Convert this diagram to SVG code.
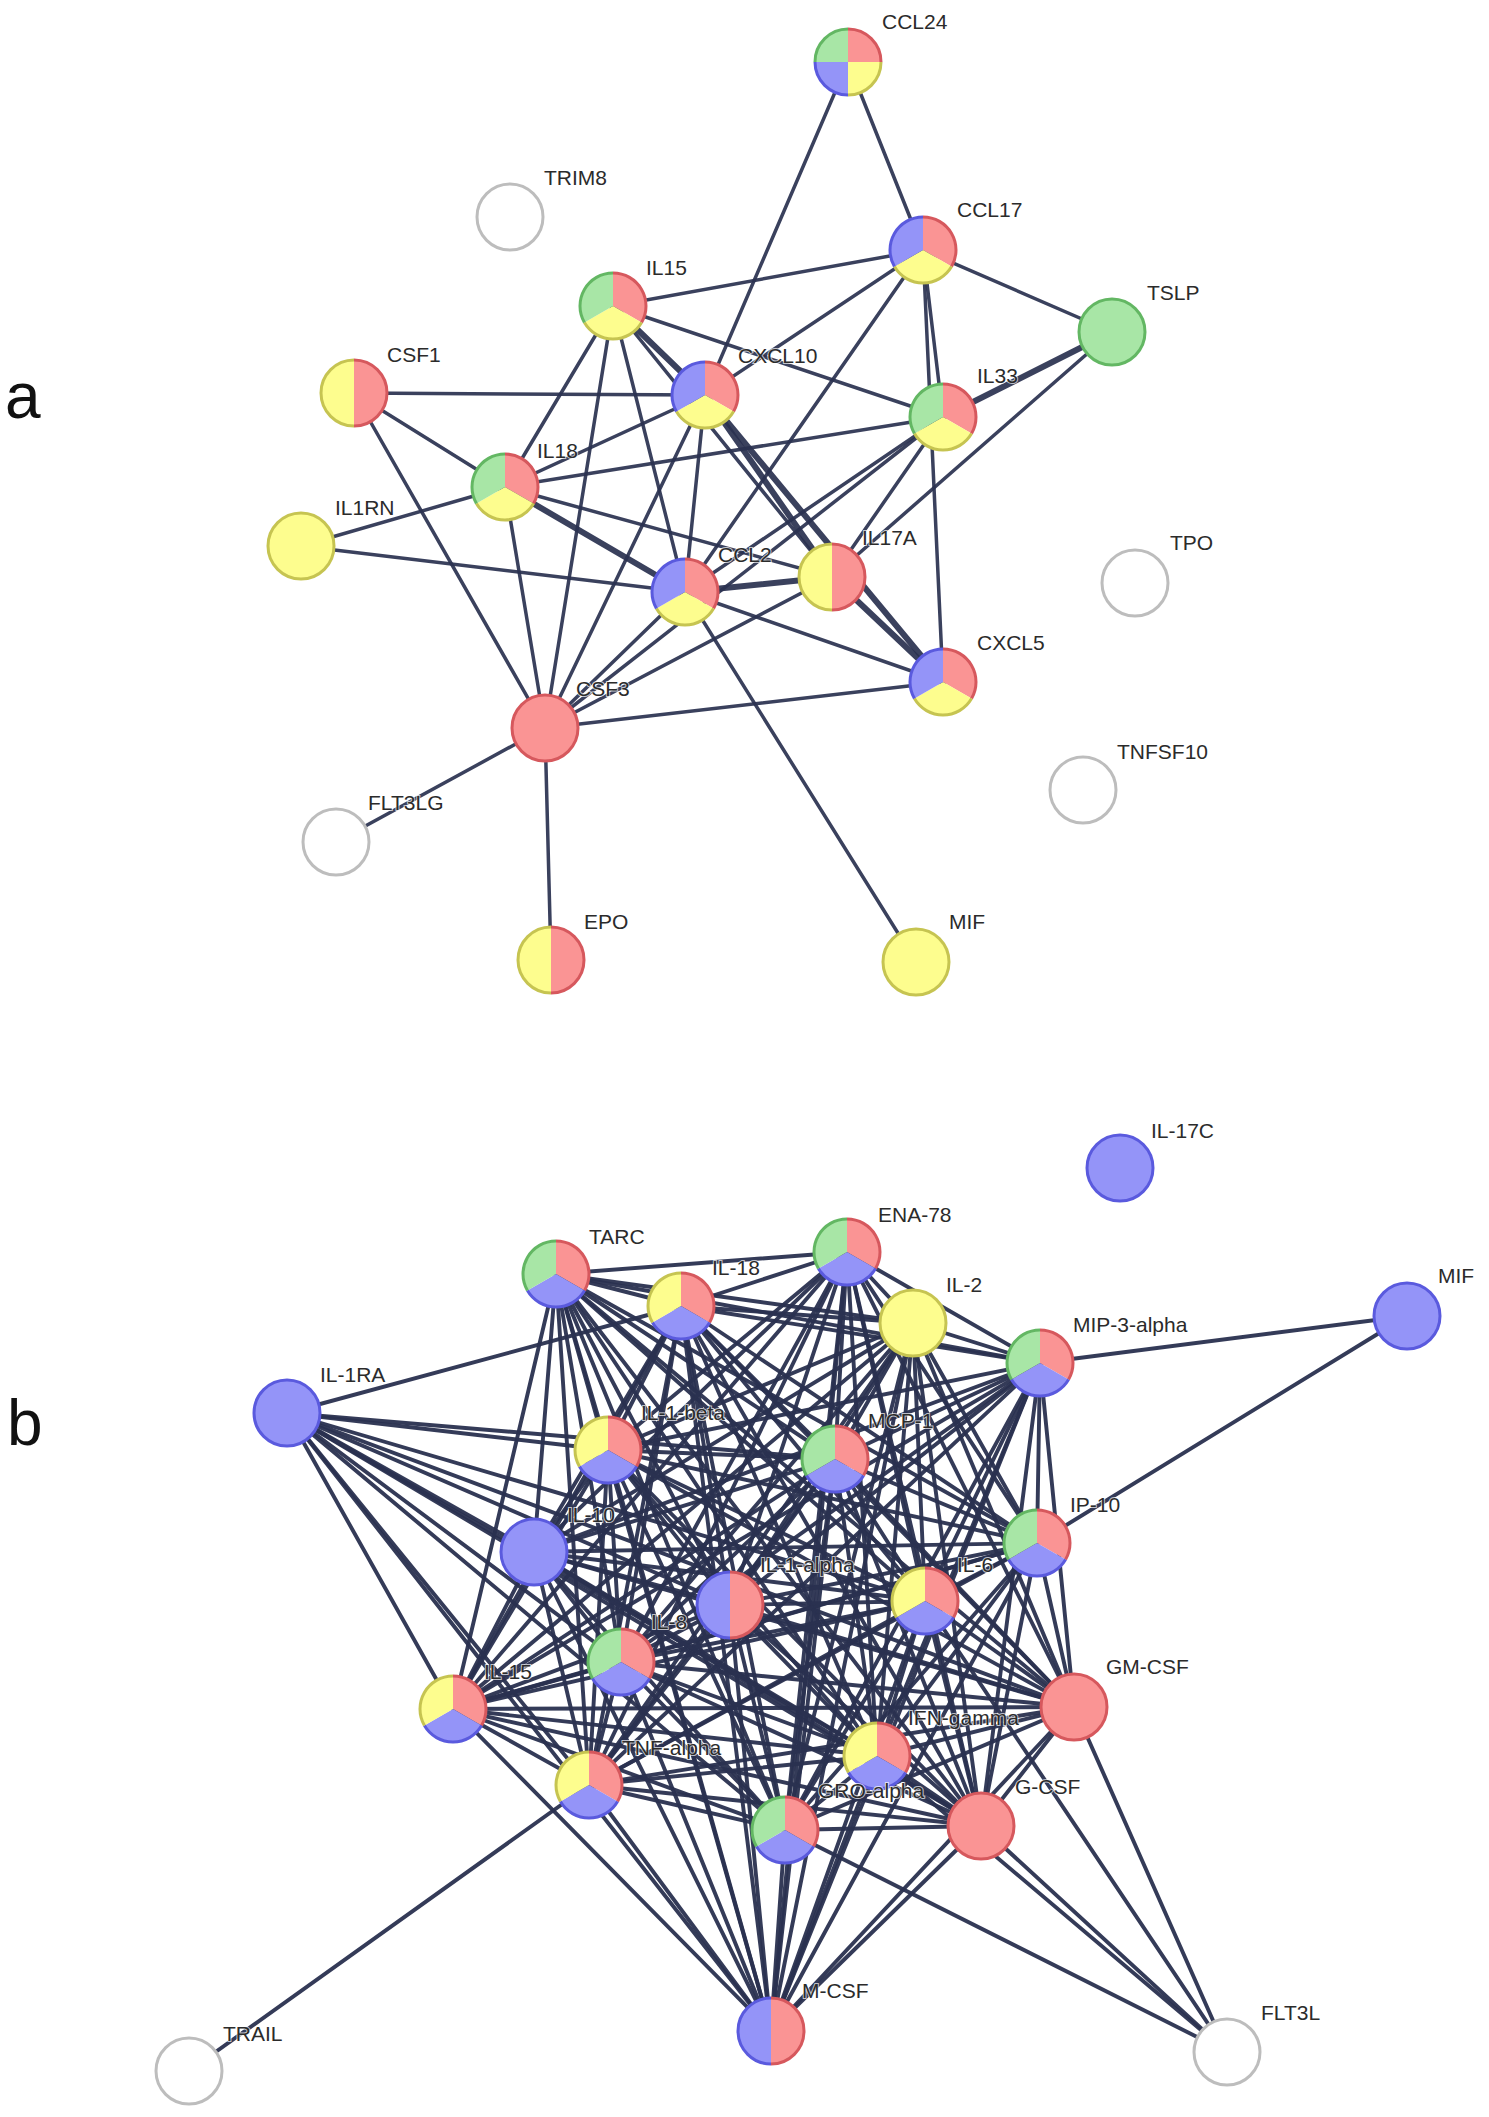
<svg xmlns="http://www.w3.org/2000/svg" xmlns:xlink="http://www.w3.org/1999/xlink" width="1489" height="2117" viewBox="0 0 1489 2117">
<style>
.fr{fill:#fa9494}.fy{fill:#fdfd8e}.fg{fill:#a8e6a6}.fb{fill:#9494f8}.fw{fill:#ffffff}
.sr{stroke:#d6585d;stroke-width:3}.sy{stroke:#c6c451;stroke-width:3}.sg{stroke:#63b763;stroke-width:3}.sb{stroke:#5a5ade;stroke-width:3}.sw{stroke:#bdbdbd;stroke-width:3}
.edges line{stroke:#2a3150;stroke-width:3.5;stroke-linecap:round;opacity:0.92}
#edges-b line{stroke-width:3.9;opacity:0.95}
.edges line.t{stroke-width:6}
.lbl{font-family:"Liberation Sans",Arial,sans-serif;font-size:21px;fill:#2b2b2b;stroke:#ffffff;stroke-width:2;stroke-opacity:0.7;paint-order:stroke}
.panel{font-family:"Liberation Sans",Arial,sans-serif;font-size:64px;fill:#111}
</style>
<defs>
<path id="r0" d="M0,-33 A33,33 0 0 1 28.58,16.5 L0,0 Z"/>
<path id="r1" d="M28.58,16.5 A33,33 0 0 1 -28.58,16.5 L0,0 Z"/>
<path id="r2" d="M-28.58,16.5 A33,33 0 0 1 0,-33 L0,0 Z"/>
<path id="hR" d="M0,-33 A33,33 0 0 1 0,33 Z"/>
<path id="hL" d="M0,33 A33,33 0 0 1 0,-33 Z"/>
<path id="q0" d="M0,-33 A33,33 0 0 1 33,0 L0,0 Z"/>
<path id="q1" d="M33,0 A33,33 0 0 1 0,33 L0,0 Z"/>
<path id="q2" d="M0,33 A33,33 0 0 1 -33,0 L0,0 Z"/>
<path id="q3" d="M-33,0 A33,33 0 0 1 0,-33 L0,0 Z"/>
<path id="a0" fill="none" d="M0,-33 A33,33 0 0 1 28.58,16.5"/>
<path id="a1" fill="none" d="M28.58,16.5 A33,33 0 0 1 -28.58,16.5"/>
<path id="a2" fill="none" d="M-28.58,16.5 A33,33 0 0 1 0,-33"/>
<path id="aR" fill="none" d="M0,-33 A33,33 0 0 1 0,33"/>
<path id="aL" fill="none" d="M0,33 A33,33 0 0 1 0,-33"/>
<path id="aq0" fill="none" d="M0,-33 A33,33 0 0 1 33,0"/>
<path id="aq1" fill="none" d="M33,0 A33,33 0 0 1 0,33"/>
<path id="aq2" fill="none" d="M0,33 A33,33 0 0 1 -33,0"/>
<path id="aq3" fill="none" d="M-33,0 A33,33 0 0 1 0,-33"/>
</defs>
<rect width="1489" height="2117" fill="#ffffff"/>
<text class="panel" x="5" y="418">a</text>
<text class="panel" x="7" y="1445">b</text>

<g id="edges-a" class="edges">
<line x1="848" y1="62" x2="923" y2="250"/>
<line x1="848" y1="62" x2="705" y2="395"/>
<line x1="923" y1="250" x2="1112" y2="332"/>
<line x1="923" y1="250" x2="613" y2="306"/>
<line x1="923" y1="250" x2="705" y2="395"/>
<line x1="923" y1="250" x2="943" y2="417"/>
<line x1="923" y1="250" x2="943" y2="682"/>
<line x1="923" y1="250" x2="685" y2="592"/>
<line class="t" x1="1112" y1="332" x2="943" y2="417"/>
<line x1="1112" y1="332" x2="832" y2="577"/>
<line x1="613" y1="306" x2="943" y2="417"/>
<line class="t" x1="613" y1="306" x2="705" y2="395"/>
<line x1="613" y1="306" x2="505" y2="487"/>
<line x1="613" y1="306" x2="545" y2="728"/>
<line x1="613" y1="306" x2="685" y2="592"/>
<line x1="613" y1="306" x2="832" y2="577"/>
<line x1="354" y1="393" x2="705" y2="395"/>
<line x1="354" y1="393" x2="505" y2="487"/>
<line x1="354" y1="393" x2="545" y2="728"/>
<line x1="301" y1="546" x2="505" y2="487"/>
<line x1="301" y1="546" x2="685" y2="592"/>
<line x1="505" y1="487" x2="705" y2="395"/>
<line x1="505" y1="487" x2="943" y2="417"/>
<line class="t" x1="505" y1="487" x2="685" y2="592"/>
<line x1="505" y1="487" x2="832" y2="577"/>
<line x1="505" y1="487" x2="545" y2="728"/>
<line x1="705" y1="395" x2="685" y2="592"/>
<line x1="705" y1="395" x2="545" y2="728"/>
<line class="t" x1="705" y1="395" x2="832" y2="577"/>
<line class="t" x1="705" y1="395" x2="943" y2="682"/>
<line x1="943" y1="417" x2="685" y2="592"/>
<line x1="943" y1="417" x2="832" y2="577"/>
<line x1="943" y1="417" x2="545" y2="728"/>
<line class="t" x1="685" y1="592" x2="832" y2="577"/>
<line x1="685" y1="592" x2="943" y2="682"/>
<line x1="685" y1="592" x2="545" y2="728"/>
<line x1="685" y1="592" x2="916" y2="962"/>
<line class="t" x1="832" y1="577" x2="943" y2="682"/>
<line x1="832" y1="577" x2="545" y2="728"/>
<line x1="943" y1="682" x2="545" y2="728"/>
<line x1="545" y1="728" x2="336" y2="842"/>
<line x1="545" y1="728" x2="551" y2="960"/>
</g>

<g id="edges-b" class="edges">
<line x1="556" y1="1274" x2="681" y2="1306"/><line x1="556" y1="1274" x2="847" y2="1252"/><line x1="556" y1="1274" x2="913" y2="1323"/><line x1="556" y1="1274" x2="1040" y2="1363"/><line x1="556" y1="1274" x2="608" y2="1450"/><line x1="556" y1="1274" x2="835" y2="1459"/><line x1="556" y1="1274" x2="534" y2="1552"/><line x1="556" y1="1274" x2="1037" y2="1543"/><line x1="556" y1="1274" x2="730" y2="1605"/><line x1="556" y1="1274" x2="925" y2="1601"/><line x1="556" y1="1274" x2="621" y2="1662"/><line x1="556" y1="1274" x2="453" y2="1709"/><line x1="556" y1="1274" x2="1074" y2="1707"/><line x1="556" y1="1274" x2="589" y2="1785"/><line x1="556" y1="1274" x2="877" y2="1756"/><line x1="556" y1="1274" x2="785" y2="1830"/><line x1="556" y1="1274" x2="981" y2="1826"/><line x1="556" y1="1274" x2="771" y2="2031"/>
<line x1="681" y1="1306" x2="847" y2="1252"/><line x1="681" y1="1306" x2="913" y2="1323"/><line x1="681" y1="1306" x2="1040" y2="1363"/><line x1="681" y1="1306" x2="608" y2="1450"/><line x1="681" y1="1306" x2="835" y2="1459"/><line x1="681" y1="1306" x2="534" y2="1552"/><line x1="681" y1="1306" x2="1037" y2="1543"/><line x1="681" y1="1306" x2="730" y2="1605"/><line x1="681" y1="1306" x2="925" y2="1601"/><line x1="681" y1="1306" x2="621" y2="1662"/><line x1="681" y1="1306" x2="453" y2="1709"/><line x1="681" y1="1306" x2="1074" y2="1707"/><line x1="681" y1="1306" x2="589" y2="1785"/><line x1="681" y1="1306" x2="877" y2="1756"/><line x1="681" y1="1306" x2="785" y2="1830"/><line x1="681" y1="1306" x2="981" y2="1826"/><line x1="681" y1="1306" x2="771" y2="2031"/>
<line x1="847" y1="1252" x2="913" y2="1323"/><line x1="847" y1="1252" x2="1040" y2="1363"/><line x1="847" y1="1252" x2="608" y2="1450"/><line x1="847" y1="1252" x2="835" y2="1459"/><line x1="847" y1="1252" x2="534" y2="1552"/><line x1="847" y1="1252" x2="1037" y2="1543"/><line x1="847" y1="1252" x2="730" y2="1605"/><line x1="847" y1="1252" x2="925" y2="1601"/><line x1="847" y1="1252" x2="621" y2="1662"/><line x1="847" y1="1252" x2="453" y2="1709"/><line x1="847" y1="1252" x2="1074" y2="1707"/><line x1="847" y1="1252" x2="589" y2="1785"/><line x1="847" y1="1252" x2="877" y2="1756"/><line x1="847" y1="1252" x2="785" y2="1830"/><line x1="847" y1="1252" x2="981" y2="1826"/><line x1="847" y1="1252" x2="771" y2="2031"/>
<line x1="913" y1="1323" x2="1040" y2="1363"/><line x1="913" y1="1323" x2="608" y2="1450"/><line x1="913" y1="1323" x2="835" y2="1459"/><line x1="913" y1="1323" x2="534" y2="1552"/><line x1="913" y1="1323" x2="1037" y2="1543"/><line x1="913" y1="1323" x2="730" y2="1605"/><line x1="913" y1="1323" x2="925" y2="1601"/><line x1="913" y1="1323" x2="621" y2="1662"/><line x1="913" y1="1323" x2="453" y2="1709"/><line x1="913" y1="1323" x2="1074" y2="1707"/><line x1="913" y1="1323" x2="589" y2="1785"/><line x1="913" y1="1323" x2="877" y2="1756"/><line x1="913" y1="1323" x2="785" y2="1830"/><line x1="913" y1="1323" x2="981" y2="1826"/><line x1="913" y1="1323" x2="771" y2="2031"/>
<line x1="1040" y1="1363" x2="608" y2="1450"/><line x1="1040" y1="1363" x2="835" y2="1459"/><line x1="1040" y1="1363" x2="534" y2="1552"/><line x1="1040" y1="1363" x2="1037" y2="1543"/><line x1="1040" y1="1363" x2="730" y2="1605"/><line x1="1040" y1="1363" x2="925" y2="1601"/><line x1="1040" y1="1363" x2="621" y2="1662"/><line x1="1040" y1="1363" x2="453" y2="1709"/><line x1="1040" y1="1363" x2="1074" y2="1707"/><line x1="1040" y1="1363" x2="589" y2="1785"/><line x1="1040" y1="1363" x2="877" y2="1756"/><line x1="1040" y1="1363" x2="785" y2="1830"/><line x1="1040" y1="1363" x2="981" y2="1826"/><line x1="1040" y1="1363" x2="771" y2="2031"/>
<line x1="608" y1="1450" x2="835" y2="1459"/><line x1="608" y1="1450" x2="534" y2="1552"/><line x1="608" y1="1450" x2="1037" y2="1543"/><line x1="608" y1="1450" x2="730" y2="1605"/><line x1="608" y1="1450" x2="925" y2="1601"/><line x1="608" y1="1450" x2="621" y2="1662"/><line x1="608" y1="1450" x2="453" y2="1709"/><line x1="608" y1="1450" x2="1074" y2="1707"/><line x1="608" y1="1450" x2="589" y2="1785"/><line x1="608" y1="1450" x2="877" y2="1756"/><line x1="608" y1="1450" x2="785" y2="1830"/><line x1="608" y1="1450" x2="981" y2="1826"/><line x1="608" y1="1450" x2="771" y2="2031"/>
<line x1="835" y1="1459" x2="534" y2="1552"/><line x1="835" y1="1459" x2="1037" y2="1543"/><line x1="835" y1="1459" x2="730" y2="1605"/><line x1="835" y1="1459" x2="925" y2="1601"/><line x1="835" y1="1459" x2="621" y2="1662"/><line x1="835" y1="1459" x2="453" y2="1709"/><line x1="835" y1="1459" x2="1074" y2="1707"/><line x1="835" y1="1459" x2="589" y2="1785"/><line x1="835" y1="1459" x2="877" y2="1756"/><line x1="835" y1="1459" x2="785" y2="1830"/><line x1="835" y1="1459" x2="981" y2="1826"/><line x1="835" y1="1459" x2="771" y2="2031"/>
<line x1="534" y1="1552" x2="1037" y2="1543"/><line x1="534" y1="1552" x2="730" y2="1605"/><line x1="534" y1="1552" x2="925" y2="1601"/><line x1="534" y1="1552" x2="621" y2="1662"/><line x1="534" y1="1552" x2="453" y2="1709"/><line x1="534" y1="1552" x2="1074" y2="1707"/><line x1="534" y1="1552" x2="589" y2="1785"/><line x1="534" y1="1552" x2="877" y2="1756"/><line x1="534" y1="1552" x2="785" y2="1830"/><line x1="534" y1="1552" x2="981" y2="1826"/><line x1="534" y1="1552" x2="771" y2="2031"/>
<line x1="1037" y1="1543" x2="730" y2="1605"/><line x1="1037" y1="1543" x2="925" y2="1601"/><line x1="1037" y1="1543" x2="621" y2="1662"/><line x1="1037" y1="1543" x2="453" y2="1709"/><line x1="1037" y1="1543" x2="1074" y2="1707"/><line x1="1037" y1="1543" x2="589" y2="1785"/><line x1="1037" y1="1543" x2="877" y2="1756"/><line x1="1037" y1="1543" x2="785" y2="1830"/><line x1="1037" y1="1543" x2="981" y2="1826"/><line x1="1037" y1="1543" x2="771" y2="2031"/>
<line x1="730" y1="1605" x2="925" y2="1601"/><line x1="730" y1="1605" x2="621" y2="1662"/><line x1="730" y1="1605" x2="453" y2="1709"/><line x1="730" y1="1605" x2="1074" y2="1707"/><line x1="730" y1="1605" x2="589" y2="1785"/><line x1="730" y1="1605" x2="877" y2="1756"/><line x1="730" y1="1605" x2="785" y2="1830"/><line x1="730" y1="1605" x2="981" y2="1826"/><line x1="730" y1="1605" x2="771" y2="2031"/>
<line x1="925" y1="1601" x2="621" y2="1662"/><line x1="925" y1="1601" x2="453" y2="1709"/><line x1="925" y1="1601" x2="1074" y2="1707"/><line x1="925" y1="1601" x2="589" y2="1785"/><line x1="925" y1="1601" x2="877" y2="1756"/><line x1="925" y1="1601" x2="785" y2="1830"/><line x1="925" y1="1601" x2="981" y2="1826"/><line x1="925" y1="1601" x2="771" y2="2031"/>
<line x1="621" y1="1662" x2="453" y2="1709"/><line x1="621" y1="1662" x2="1074" y2="1707"/><line x1="621" y1="1662" x2="589" y2="1785"/><line x1="621" y1="1662" x2="877" y2="1756"/><line x1="621" y1="1662" x2="785" y2="1830"/><line x1="621" y1="1662" x2="981" y2="1826"/><line x1="621" y1="1662" x2="771" y2="2031"/>
<line x1="453" y1="1709" x2="1074" y2="1707"/><line x1="453" y1="1709" x2="589" y2="1785"/><line x1="453" y1="1709" x2="877" y2="1756"/><line x1="453" y1="1709" x2="785" y2="1830"/><line x1="453" y1="1709" x2="981" y2="1826"/><line x1="453" y1="1709" x2="771" y2="2031"/>
<line x1="1074" y1="1707" x2="589" y2="1785"/><line x1="1074" y1="1707" x2="877" y2="1756"/><line x1="1074" y1="1707" x2="785" y2="1830"/><line x1="1074" y1="1707" x2="981" y2="1826"/><line x1="1074" y1="1707" x2="771" y2="2031"/>
<line x1="589" y1="1785" x2="877" y2="1756"/><line x1="589" y1="1785" x2="785" y2="1830"/><line x1="589" y1="1785" x2="981" y2="1826"/><line x1="589" y1="1785" x2="771" y2="2031"/>
<line x1="877" y1="1756" x2="785" y2="1830"/><line x1="877" y1="1756" x2="981" y2="1826"/><line x1="877" y1="1756" x2="771" y2="2031"/>
<line x1="785" y1="1830" x2="981" y2="1826"/><line x1="785" y1="1830" x2="771" y2="2031"/>
<line x1="981" y1="1826" x2="771" y2="2031"/>
<line x1="287" y1="1413" x2="681" y2="1306"/><line x1="287" y1="1413" x2="608" y2="1450"/><line x1="287" y1="1413" x2="835" y2="1459"/><line x1="287" y1="1413" x2="925" y2="1601"/><line x1="287" y1="1413" x2="1074" y2="1707"/><line x1="287" y1="1413" x2="730" y2="1605"/><line x1="287" y1="1413" x2="534" y2="1552"/><line x1="287" y1="1413" x2="981" y2="1826"/><line x1="287" y1="1413" x2="877" y2="1756"/><line x1="287" y1="1413" x2="621" y2="1662"/><line x1="287" y1="1413" x2="785" y2="1830"/><line x1="287" y1="1413" x2="589" y2="1785"/><line x1="287" y1="1413" x2="771" y2="2031"/><line x1="287" y1="1413" x2="453" y2="1709"/>
<line x1="1407" y1="1316" x2="1040" y2="1363"/><line x1="1407" y1="1316" x2="1037" y2="1543"/>
<line x1="189" y1="2071" x2="589" y2="1785"/>
<line x1="1227" y1="2052" x2="1074" y2="1707"/><line x1="1227" y1="2052" x2="981" y2="1826"/><line x1="1227" y1="2052" x2="785" y2="1830"/><line x1="1227" y1="2052" x2="925" y2="1601"/><line x1="1227" y1="2052" x2="877" y2="1756"/>
</g>

<g id="nodes-a">
<g id="n-CCL24" transform="translate(848,62)"><use href="#q0" class="fr"/><use href="#q1" class="fy"/><use href="#q2" class="fb"/><use href="#q3" class="fg"/><use href="#aq0" class="sr"/><use href="#aq1" class="sy"/><use href="#aq2" class="sb"/><use href="#aq3" class="sg"/><text class="lbl" x="34" y="-33">CCL24</text></g>
<g id="n-TRIM8" transform="translate(510,217)"><circle r="33" class="fw sw"/><text class="lbl" x="34" y="-32">TRIM8</text></g>
<g id="n-CCL17" transform="translate(923,250)"><use href="#r0" class="fr"/><use href="#r1" class="fy"/><use href="#r2" class="fb"/><use href="#a0" class="sr"/><use href="#a1" class="sy"/><use href="#a2" class="sb"/><text class="lbl" x="34" y="-33">CCL17</text></g>
<g id="n-IL15" transform="translate(613,306)"><use href="#r0" class="fr"/><use href="#r1" class="fy"/><use href="#r2" class="fg"/><use href="#a0" class="sr"/><use href="#a1" class="sy"/><use href="#a2" class="sg"/><text class="lbl" x="33" y="-31">IL15</text></g>
<g id="n-TSLP" transform="translate(1112,332)"><circle r="33" class="fg sg"/><text class="lbl" x="35" y="-32">TSLP</text></g>
<g id="n-CSF1" transform="translate(354,393)"><use href="#hR" class="fr"/><use href="#hL" class="fy"/><use href="#aR" class="sr"/><use href="#aL" class="sy"/><text class="lbl" x="33" y="-31">CSF1</text></g>
<g id="n-CXCL10" transform="translate(705,395)"><use href="#r0" class="fr"/><use href="#r1" class="fy"/><use href="#r2" class="fb"/><use href="#a0" class="sr"/><use href="#a1" class="sy"/><use href="#a2" class="sb"/><text class="lbl" x="33" y="-32">CXCL10</text></g>
<g id="n-IL33" transform="translate(943,417)"><use href="#r0" class="fr"/><use href="#r1" class="fy"/><use href="#r2" class="fg"/><use href="#a0" class="sr"/><use href="#a1" class="sy"/><use href="#a2" class="sg"/><text class="lbl" x="34" y="-34">IL33</text></g>
<g id="n-IL18" transform="translate(505,487)"><use href="#r0" class="fr"/><use href="#r1" class="fy"/><use href="#r2" class="fg"/><use href="#a0" class="sr"/><use href="#a1" class="sy"/><use href="#a2" class="sg"/><text class="lbl" x="32" y="-29">IL18</text></g>
<g id="n-IL1RN" transform="translate(301,546)"><circle r="33" class="fy sy"/><text class="lbl" x="34" y="-31">IL1RN</text></g>
<g id="n-TPO" transform="translate(1135,583)"><circle r="33" class="fw sw"/><text class="lbl" x="35" y="-33">TPO</text></g>
<g id="n-IL17A" transform="translate(832,577)"><use href="#hR" class="fr"/><use href="#hL" class="fy"/><use href="#aR" class="sr"/><use href="#aL" class="sy"/><text class="lbl" x="30" y="-32">IL17A</text></g>
<g id="n-CCL2" transform="translate(685,592)"><use href="#r0" class="fr"/><use href="#r1" class="fy"/><use href="#r2" class="fb"/><use href="#a0" class="sr"/><use href="#a1" class="sy"/><use href="#a2" class="sb"/><text class="lbl" x="33" y="-30">CCL2</text></g>
<g id="n-CXCL5" transform="translate(943,682)"><use href="#r0" class="fr"/><use href="#r1" class="fy"/><use href="#r2" class="fb"/><use href="#a0" class="sr"/><use href="#a1" class="sy"/><use href="#a2" class="sb"/><text class="lbl" x="34" y="-32">CXCL5</text></g>
<g id="n-CSF3" transform="translate(545,728)"><circle r="33" class="fr sr"/><text class="lbl" x="31" y="-32">CSF3</text></g>
<g id="n-TNFSF10" transform="translate(1083,790)"><circle r="33" class="fw sw"/><text class="lbl" x="34" y="-31">TNFSF10</text></g>
<g id="n-FLT3LG" transform="translate(336,842)"><circle r="33" class="fw sw"/><text class="lbl" x="32" y="-32">FLT3LG</text></g>
<g id="n-EPO" transform="translate(551,960)"><use href="#hR" class="fr"/><use href="#hL" class="fy"/><use href="#aR" class="sr"/><use href="#aL" class="sy"/><text class="lbl" x="33" y="-31">EPO</text></g>
<g id="n-MIF-a" transform="translate(916,962)"><circle r="33" class="fy sy"/><text class="lbl" x="33" y="-33">MIF</text></g>
</g>

<g id="nodes-b">
<g id="n-IL-17C" transform="translate(1120,1168)"><circle r="33" class="fb sb"/><text class="lbl" x="31" y="-30">IL-17C</text></g>
<g id="n-TARC" transform="translate(556,1274)"><use href="#r0" class="fr"/><use href="#r1" class="fb"/><use href="#r2" class="fg"/><use href="#a0" class="sr"/><use href="#a1" class="sb"/><use href="#a2" class="sg"/><text class="lbl" x="33" y="-30">TARC</text></g>
<g id="n-ENA-78" transform="translate(847,1252)"><use href="#r0" class="fr"/><use href="#r1" class="fb"/><use href="#r2" class="fg"/><use href="#a0" class="sr"/><use href="#a1" class="sb"/><use href="#a2" class="sg"/><text class="lbl" x="31" y="-30">ENA-78</text></g>
<g id="n-IL-18" transform="translate(681,1306)"><use href="#r0" class="fr"/><use href="#r1" class="fb"/><use href="#r2" class="fy"/><use href="#a0" class="sr"/><use href="#a1" class="sb"/><use href="#a2" class="sy"/><text class="lbl" x="31" y="-31">IL-18</text></g>
<g id="n-IL-2" transform="translate(913,1323)"><circle r="33" class="fy sy"/><text class="lbl" x="33" y="-31">IL-2</text></g>
<g id="n-MIP-3-alpha" transform="translate(1040,1363)"><use href="#r0" class="fr"/><use href="#r1" class="fb"/><use href="#r2" class="fg"/><use href="#a0" class="sr"/><use href="#a1" class="sb"/><use href="#a2" class="sg"/><text class="lbl" x="33" y="-31">MIP-3-alpha</text></g>
<g id="n-MIF-b" transform="translate(1407,1316)"><circle r="33" class="fb sb"/><text class="lbl" x="31" y="-33">MIF</text></g>
<g id="n-IL-1RA" transform="translate(287,1413)"><circle r="33" class="fb sb"/><text class="lbl" x="33" y="-31">IL-1RA</text></g>
<g id="n-IL-1-beta" transform="translate(608,1450)"><use href="#r0" class="fr"/><use href="#r1" class="fb"/><use href="#r2" class="fy"/><use href="#a0" class="sr"/><use href="#a1" class="sb"/><use href="#a2" class="sy"/><text class="lbl" x="33" y="-30">IL-1-beta</text></g>
<g id="n-MCP-1" transform="translate(835,1459)"><use href="#r0" class="fr"/><use href="#r1" class="fb"/><use href="#r2" class="fg"/><use href="#a0" class="sr"/><use href="#a1" class="sb"/><use href="#a2" class="sg"/><text class="lbl" x="33" y="-31">MCP-1</text></g>
<g id="n-IL-10" transform="translate(534,1552)"><circle r="33" class="fb sb"/><text class="lbl" x="33" y="-30">IL-10</text></g>
<g id="n-IP-10" transform="translate(1037,1543)"><use href="#r0" class="fr"/><use href="#r1" class="fb"/><use href="#r2" class="fg"/><use href="#a0" class="sr"/><use href="#a1" class="sb"/><use href="#a2" class="sg"/><text class="lbl" x="33" y="-31">IP-10</text></g>
<g id="n-IL-1-alpha" transform="translate(730,1605)"><use href="#hR" class="fr"/><use href="#hL" class="fb"/><use href="#aR" class="sr"/><use href="#aL" class="sb"/><text class="lbl" x="30" y="-33">IL-1-alpha</text></g>
<g id="n-IL-6" transform="translate(925,1601)"><use href="#r0" class="fr"/><use href="#r1" class="fb"/><use href="#r2" class="fy"/><use href="#a0" class="sr"/><use href="#a1" class="sb"/><use href="#a2" class="sy"/><text class="lbl" x="32" y="-29">IL-6</text></g>
<g id="n-IL-8" transform="translate(621,1662)"><use href="#r0" class="fr"/><use href="#r1" class="fb"/><use href="#r2" class="fg"/><use href="#a0" class="sr"/><use href="#a1" class="sb"/><use href="#a2" class="sg"/><text class="lbl" x="30" y="-33">IL-8</text></g>
<g id="n-IL-15" transform="translate(453,1709)"><use href="#r0" class="fr"/><use href="#r1" class="fb"/><use href="#r2" class="fy"/><use href="#a0" class="sr"/><use href="#a1" class="sb"/><use href="#a2" class="sy"/><text class="lbl" x="31" y="-30">IL-15</text></g>
<g id="n-GM-CSF" transform="translate(1074,1707)"><circle r="33" class="fr sr"/><text class="lbl" x="32" y="-33">GM-CSF</text></g>
<g id="n-IFN-gamma" transform="translate(877,1756)"><use href="#r0" class="fr"/><use href="#r1" class="fb"/><use href="#r2" class="fy"/><use href="#a0" class="sr"/><use href="#a1" class="sb"/><use href="#a2" class="sy"/><text class="lbl" x="31" y="-31">IFN-gamma</text></g>
<g id="n-TNF-alpha" transform="translate(589,1785)"><use href="#r0" class="fr"/><use href="#r1" class="fb"/><use href="#r2" class="fy"/><use href="#a0" class="sr"/><use href="#a1" class="sb"/><use href="#a2" class="sy"/><text class="lbl" x="33" y="-30">TNF-alpha</text></g>
<g id="n-GRO-alpha" transform="translate(785,1830)"><use href="#r0" class="fr"/><use href="#r1" class="fb"/><use href="#r2" class="fg"/><use href="#a0" class="sr"/><use href="#a1" class="sb"/><use href="#a2" class="sg"/><text class="lbl" x="33" y="-32">GRO-alpha</text></g>
<g id="n-G-CSF" transform="translate(981,1826)"><circle r="33" class="fr sr"/><text class="lbl" x="34" y="-32">G-CSF</text></g>
<g id="n-M-CSF" transform="translate(771,2031)"><use href="#hR" class="fr"/><use href="#hL" class="fb"/><use href="#aR" class="sr"/><use href="#aL" class="sb"/><text class="lbl" x="31" y="-33">M-CSF</text></g>
<g id="n-TRAIL" transform="translate(189,2071)"><circle r="33" class="fw sw"/><text class="lbl" x="34" y="-30">TRAIL</text></g>
<g id="n-FLT3L" transform="translate(1227,2052)"><circle r="33" class="fw sw"/><text class="lbl" x="34" y="-32">FLT3L</text></g>
</g>
</svg>
